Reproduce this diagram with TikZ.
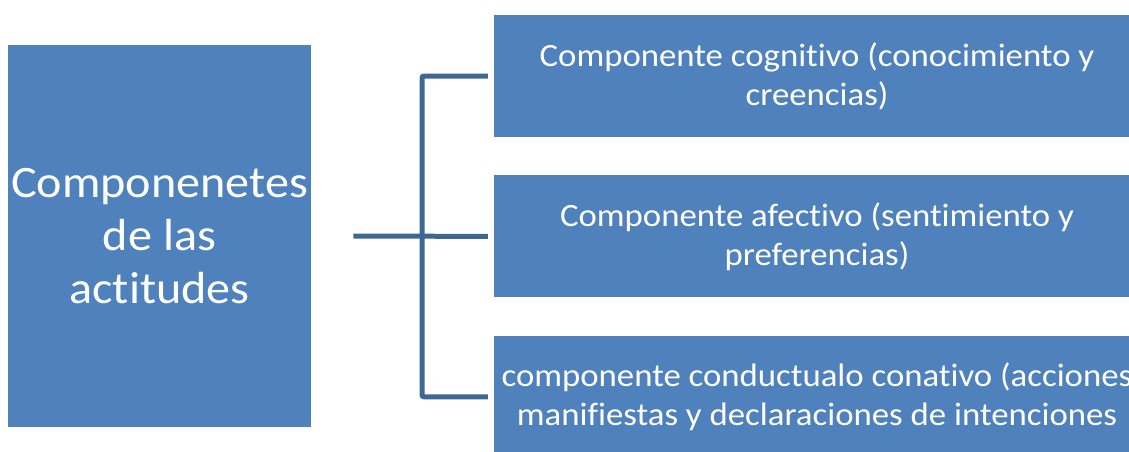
\documentclass[tikz,border=0pt]{standalone}
\usepackage{fontspec}
\setmainfont{Carlito}[Ligatures=NoCommon, FakeStretch=1.07]
\usepackage{xcolor}
\usetikzlibrary{positioning}

\definecolor{boxblue}{HTML}{4F81BD}
\definecolor{linkblue}{HTML}{3E6796}

\begin{document}
\begin{tikzpicture}[
    x=1pt, y=1pt,
    topic/.style={rectangle, fill=boxblue, text=white, minimum width=303pt, minimum height=382pt, align=center, font=\fontsize{45}{53}\selectfont},
    part/.style={rectangle, fill=boxblue, text=white, minimum width=646pt, minimum height=122pt, align=center, font=\fontsize{32.5}{39}\selectfont},
    link/.style={draw=linkblue, line width=5pt, rounded corners=2pt},
]
\useasboundingbox (0,0) rectangle (1129,-451);

% Main box
\node[topic] (attitudes) at (159.5,-236) {Componenetes\\de las\\actitudes};

% Components
\node[part] (cognitive) at (817,-76) {Componente cognitivo (conocimiento y\\creencias)};
\node[part, below=38pt of cognitive] (affective) {Componente afectivo (sentimiento y\\preferencias)};
\node[part, below=38pt of affective] (conative) {componente conductualo conativo (acciones\\manifiestas y declaraciones de intenciones};

% Bracket
\coordinate (bus) at (422,-236);
\draw[link] ([xshift=-6pt]cognitive.west) -| (bus) |- ([xshift=-6pt]conative.west);
\draw[link] ([xshift=42pt]attitudes.east) -- ([xshift=-6pt]affective.west);

\end{tikzpicture}
\end{document}
